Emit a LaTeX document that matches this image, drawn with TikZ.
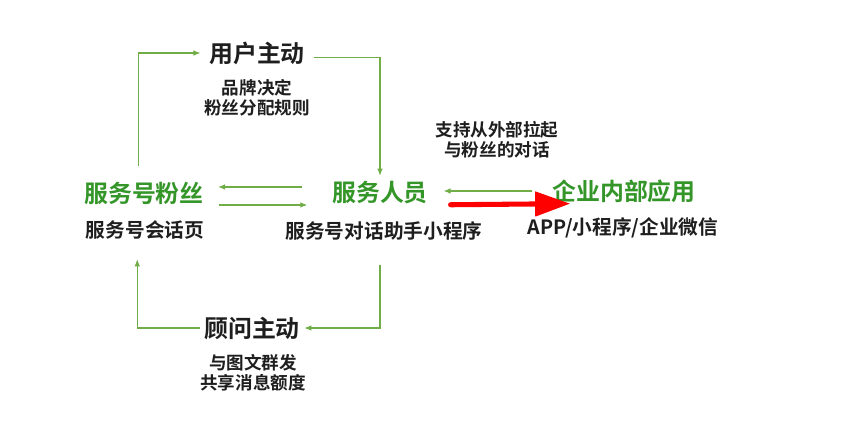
\documentclass[tikz,border=0pt]{standalone}
\usepackage{fontspec}
\setmainfont{Noto Sans CJK SC}[BoldFont={Noto Sans CJK SC Bold}]
\usepackage{xcolor}
\usetikzlibrary{arrows.meta,positioning,calc}
\definecolor{titlegreen}{RGB}{52,150,40}
\definecolor{linegreen}{RGB}{112,173,71}
\definecolor{textblack}{RGB}{30,30,30}
\tikzset{
    roletitle/.style={
        inner sep=0pt,
        font=\fontsize{17}{20}\selectfont\bfseries,
        text=textblack
    },
    greentitle/.style={
        roletitle,
        text=titlegreen
    },
    channel/.style={
        inner sep=0pt,
        font=\fontsize{14}{17}\selectfont\bfseries,
        text=textblack
    },
    remark/.style={
        inner sep=0pt,
        align=center,
        font=\fontsize{12.5}{14}\selectfont\bfseries,
        text=textblack
    },
    flowline/.style={
        draw=linegreen,
        line width=0.8pt,
        -{Latex[length=5pt,width=4pt]}
    },
    pullarrow/.style={
        draw=red,
        line width=3.6pt,
        line cap=round,
        -{Triangle[length=25pt,width=17pt]}
    }
}

\begin{document}
\begin{tikzpicture}[x=0.025cm, y=-0.025cm]
\useasboundingbox (0,0) rectangle (846,434);

% User initiative
\node[roletitle, inner xsep=6pt] (userinit) at (257,53) {用户主动};
\node[remark] (userinitnote) at (257,98) {品牌决定\\粉丝分配规则};

% Service account fans
\node[greentitle] (fans) at (144,193) {服务号粉丝};
\node[channel] (fanspage) at (145,230) {服务号会话页};

% Service staff
\node[greentitle] (staff) at (380,193) {服务人员};
\node[channel] (staffpage) at (384,231) {服务号对话助手小程序};

% Enterprise apps
\node[greentitle] (enterprise) at (624,191) {企业内部应用};
\node[channel] (enterprisepage) at (623,228) {APP/小程序/企业微信};
\node[remark] (pullnote) at (497,140) {支持从外部拉起\\与粉丝的对话};

% Advisor initiative
\node[roletitle, inner xsep=3pt] (advisor) at (252,328) {顾问主动};
\node[remark] (advisornote) at (253,373) {与图文群发\\共享消息额度};

% Loop
\draw[flowline, shorten <=11pt] ([xshift=-4pt]fans.north) |- (userinit.west);
\draw[flowline, shorten >=4pt] ([yshift=-3.5pt]userinit.east) -| (staff.north);
\draw[flowline, shorten <=17pt] (staff |- staffpage.south) |- (advisor.east);
\draw[flowline, shorten >=14pt] (advisor.west) -| ([xshift=-5.5pt]fanspage.south);

% Fans <-> staff
\draw[flowline, shorten <=21pt, shorten >=10pt] ([yshift=4.3pt]staff.west) -- ([yshift=4.3pt]fans.east);
\draw[flowline, shorten <=10.5pt, shorten >=17.5pt] ([yshift=-8.5pt]fans.east) -- ([yshift=-8.5pt]staff.west);

% Staff <-> enterprise
\draw[flowline, shorten <=14pt, shorten >=11pt] (enterprise.west) -- (enterprise.west -| staff.east);
\draw[pullarrow, shorten <=16pt] ([yshift=-8.5pt]staff.east) -- ([xshift=13pt,yshift=-9pt]enterprise.west);
\end{tikzpicture}
\end{document}
